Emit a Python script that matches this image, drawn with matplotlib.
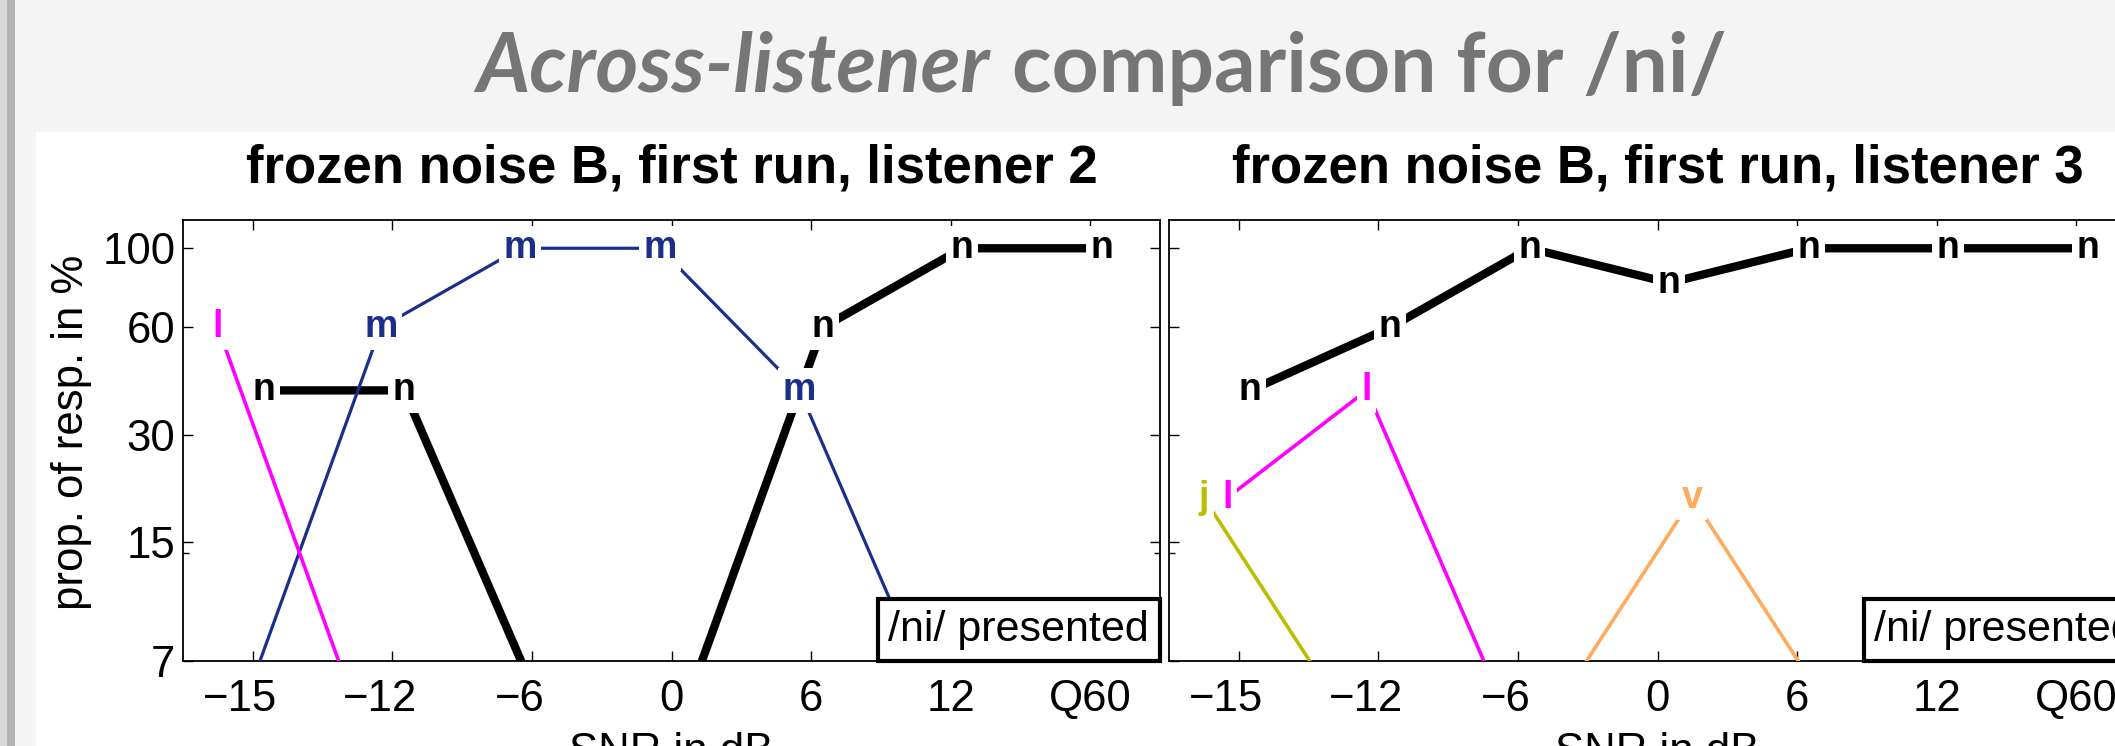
import matplotlib
matplotlib.use('Agg')
import matplotlib.pyplot as plt
import matplotlib.transforms as mtransforms
from matplotlib.offsetbox import AnchoredText
from matplotlib.patches import Rectangle
from matplotlib.ticker import FixedLocator, NullFormatter, NullLocator
import numpy as np

# SNR conditions on the x axis (Q60 = quiet)
snr_labels = ['\u221215', '\u221212', '\u22126', '0', '6', '12', 'Q60']
y_ticks = [7, 15, 30, 60, 100]

# listener 2: proportion of responses in % for each SNR
l2_n = [40, 40, 0, 0, 60, 100, 100]
l2_m = [0, 60, 100, 100, 40, 0, 0]
l2_l = [60, 0, 0, 0, 0, 0, 0]

# listener 3
l3_n = [40, 60, 100, 80, 100, 100, 100]
l3_l = [20, 40, 0, 0, 0, 0, 0]
l3_j = [20, 0, 0, 0, 0, 0, 0]
l3_v = [0, 0, 0, 20, 0, 0, 0]

panels = [
    ('frozen noise B, first run, listener 2', {'n': l2_n, 'm': l2_m, 'l': l2_l}),
    ('frozen noise B, first run, listener 3', {'n': l3_n, 'l': l3_l, 'j': l3_j, 'v': l3_v}),
]

colors = {'n': 'black', 'm': '#1b2e8a', 'l': '#ff00ff', 'j': '#bdbd00', 'v': '#ffab5e'}
widths = {'n': 6.0, 'm': 2.3, 'l': 2.6, 'j': 2.6, 'v': 2.6}
FLOOR = 5  # 0 % cannot sit on a log axis, draw it below the visible range

plt.rcParams['font.family'] = ['Liberation Sans', 'DejaVu Sans']

W, H = 2115, 746
fig = plt.figure(figsize=(W / 100, H / 100), dpi=100)
fig.patch.set_facecolor('#f4f4f4')

# slide frame: grey bar on the left, white plot area
fig.add_artist(Rectangle((0, 0), 7 / W, 1, transform=fig.transFigure,
                         facecolor='#dadada', edgecolor='none', zorder=0))
fig.add_artist(Rectangle((7 / W, 0), 8 / W, 1, transform=fig.transFigure,
                         facecolor='#b4b4b4', edgecolor='none', zorder=0))
fig.add_artist(Rectangle((36 / W, 0), 1, 1 - 132 / H, transform=fig.transFigure,
                         facecolor='white', edgecolor='none', zorder=0))

# slide heading
head = dict(fontsize=59, fontweight='bold', color='#767676', family=['Lato', 'DejaVu Sans'],
            va='baseline')
fig.text(990 / W, 1 - 92 / H, 'Across-listener', ha='right', fontstyle='italic', **head)
fig.text(1012 / W, 1 - 92 / H, 'comparison for /ni/', ha='left', **head)

ax_w, ax_h = 977 / W, 440.7 / H
bottom = 1 - 660.7 / H
lefts = [183 / W, 1169 / W]
x = np.arange(len(snr_labels))
shift = mtransforms.ScaledTranslation(-9 / 72, 0, fig.dpi_scale_trans)

for i, ((title, series), left) in enumerate(zip(panels, lefts)):
    ax = fig.add_axes([left, bottom, ax_w, ax_h])
    ax.set_yscale('log')
    ax.set_xlim(-0.5, 6.5)
    ax.set_ylim(7, 120)

    # letters are spread a bit around each SNR so they do not overlap
    order = sorted(series)
    for z, (letter, vals) in enumerate(series.items()):
        off = -0.25 + order.index(letter) / 6
        vals = np.array(vals, dtype=float)
        ax.plot(x + off, np.maximum(vals, FLOOR), color=colors[letter],
                lw=widths[letter], solid_capstyle='butt', zorder=2 + 2 * z)
        for xi, v in zip(x + off, vals):
            if v > 0:
                ax.text(xi, v, letter, color=colors[letter], fontsize=27,
                        fontweight='bold', ha='center', va='center', zorder=3 + 2 * z,
                        bbox=dict(boxstyle='square,pad=0.12', fc='white', ec='none'))

    ax.set_xticks(x)
    ax.set_xticklabels(snr_labels)
    ax.set_yticks(y_ticks)
    ax.set_yticklabels([str(t) for t in y_ticks])
    ax.yaxis.set_minor_locator(FixedLocator([14]))
    ax.yaxis.set_minor_formatter(NullFormatter())
    ax.xaxis.set_minor_locator(NullLocator())

    ax.tick_params(which='both', direction='in', top=True, right=True, width=1.0,
                   labelsize=31.5)
    ax.tick_params(which='major', length=7.2)
    ax.tick_params(which='minor', length=4.3)
    ax.tick_params(axis='x', pad=13)
    ax.tick_params(axis='y', pad=5.5)
    for sp in ax.spines.values():
        sp.set_linewidth(1.3)

    # MATLAB-style negative labels: digits centred on the tick, minus hanging left
    for lab, txt in zip(ax.get_xticklabels(), snr_labels):
        if txt.startswith('\u2212'):
            lab.set_transform(lab.get_transform() + shift)

    ax.text(0.5, 1.084, title, transform=ax.transAxes, ha='center', va='baseline',
            fontsize=38, fontweight='bold')
    ax.set_xlabel('SNR in dB', fontsize=31.5)
    ax.xaxis.set_label_coords(0.5, -0.162)
    if i == 0:
        ax.set_ylabel('prop. of resp. in %', fontsize=31.5)
        ax.yaxis.set_label_coords(-0.093, 0.519)
    else:
        ax.tick_params(axis='y', labelleft=False)

    box = AnchoredText('/ni/ presented', loc='lower right', prop=dict(size=31),
                       frameon=True, pad=0.25, borderpad=0)
    box.patch.set_boxstyle('square,pad=0')
    box.patch.set_linewidth(3)
    box.patch.set_edgecolor('black')
    box.set_zorder(20)
    ax.add_artist(box)

fig.savefig('out.png', dpi=100, facecolor=fig.get_facecolor())
